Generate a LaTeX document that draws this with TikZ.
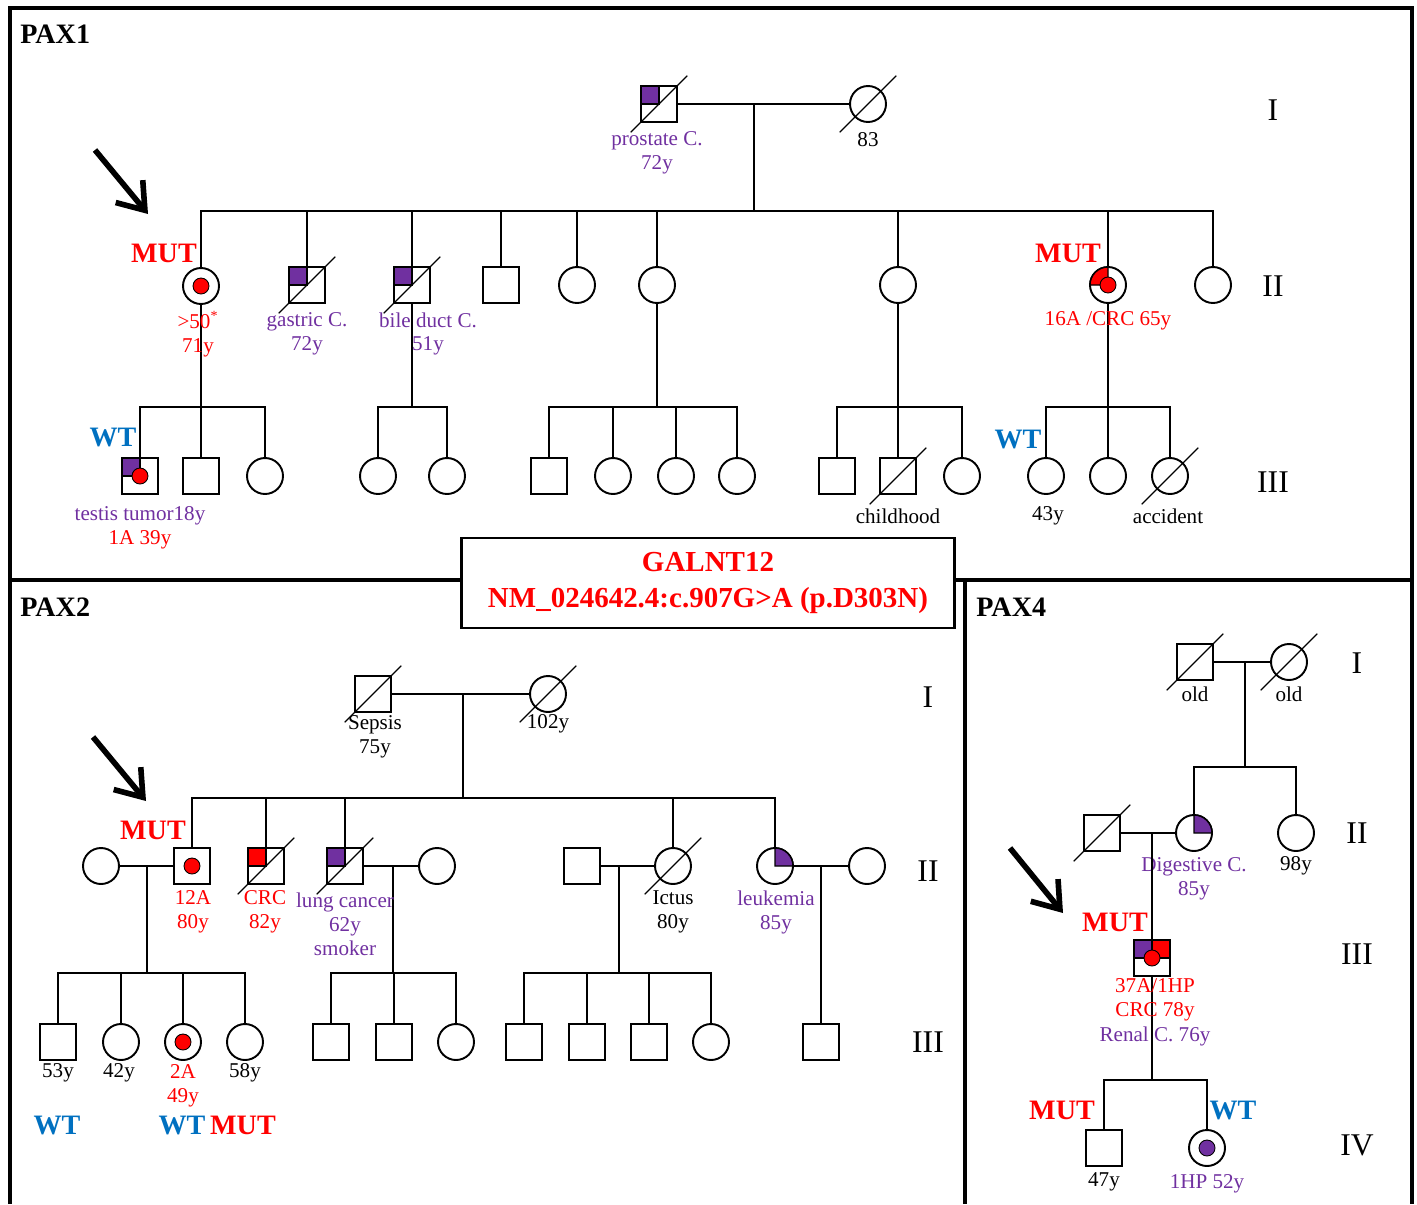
\documentclass[tikz,border=0pt]{standalone}
\usepackage{fontspec}
\setmainfont{Liberation Serif}
\usetikzlibrary{arrows.meta,calc}
\definecolor{purp}{RGB}{112,48,160}
\definecolor{wtblue}{RGB}{0,112,192}
\definecolor{mutred}{RGB}{255,0,0}
\tikzset{
  indiv/.style={draw=black, line width=1.1pt, fill=white, inner sep=0pt, outer sep=0pt, minimum size=0.72cm},
  male/.style={indiv, rectangle},
  female/.style={indiv, circle},
  link/.style={line width=1.1pt},
  frame/.style={line width=1.8pt},
  lbl/.style={font=\fontsize{12}{13.6}\selectfont, align=center, inner sep=0pt},
  plbl/.style={lbl, text=purp},
  rlbl/.style={lbl, text=mutred},
  mut/.style={font=\bfseries\fontsize{16}{18}\selectfont, text=mutred, inner sep=0pt},
  wt/.style={font=\bfseries\fontsize{16}{18}\selectfont, text=wtblue, inner sep=0pt},
  gen/.style={font=\fontsize{18}{20}\selectfont, inner sep=0pt},
  panel/.style={font=\bfseries\fontsize{16}{18}\selectfont, inner sep=0pt},
  proband/.style={line width=3.2pt, -{Straight Barb[length=14pt,width=20pt]}}
}
% markers drawn on top of a person node
\newcommand{\deceased}[1]{\draw[line width=0.7pt] ($(#1.center)+(225:0.8cm)$) -- ($(#1.center)+(45:0.8cm)$);}
\newcommand{\dotin}[2]{\filldraw[fill=#2, draw=black, line width=0.5pt] (#1.center) circle (0.16cm);}
\newcommand{\sqnw}[2]{\filldraw[fill=#2, draw=black, line width=0.8pt] (#1.north west) rectangle (#1.center);}
\newcommand{\sqne}[2]{\filldraw[fill=#2, draw=black, line width=0.8pt] (#1.north east) rectangle (#1.center);}
\newcommand{\cqne}[2]{\filldraw[fill=#2, draw=black, line width=0.8pt] (#1.center) -- (#1.north) arc[start angle=90, end angle=0, radius=0.36cm] -- cycle;}
\newcommand{\cqnw}[2]{\filldraw[fill=#2, draw=black, line width=0.8pt] (#1.center) -- (#1.north) arc[start angle=90, end angle=180, radius=0.36cm] -- cycle;}
\begin{document}
\begin{tikzpicture}[x=0.02cm, y=-0.02cm]
\useasboundingbox (0,0) rectangle (1417,1204);
% panel frames
\draw[frame] (10,1204) -- (10,8) -- (1412,8) -- (1412,1204);
\draw[frame] (10,580) -- (1412,580);
\draw[frame] (965,580) -- (965,1204);
\node[panel, anchor=west] (pax1) at (20,34) {PAX1};
\node[panel, anchor=west] (pax2) at (20,607) {PAX2};
\node[panel, anchor=west] (pax4) at (976,607) {PAX4};

%% ---------------- PAX1 ----------------
% generation I
\node[male] (p1f) at (659,104) {};
\node[female] (p1m) at (868,104) {};
\coordinate (p1mar) at (754,104);
\coordinate (p1sib) at (754,211);
\draw[link] (p1f) -- (p1m);
\draw[link] (p1mar) -- (p1sib);
\sqnw{p1f}{purp}
\deceased{p1f}
\deceased{p1m}
\node[plbl] (p1fl) at (657,153) {prostate C.\\72y};
\node[lbl] (p1ml) at (868,140) {83};
% generation II
\node[female] (p1c1) at (201,286) {};
\node[male] (p1c2) at (307,285) {};
\node[male] (p1c3) at (412,285) {};
\node[male] (p1c4) at (501,285) {};
\node[female] (p1c5) at (577,285) {};
\node[female] (p1c6) at (657,285) {};
\node[female] (p1c7) at (898,285) {};
\node[female] (p1c8) at (1108,285) {};
\node[female] (p1c9) at (1213,285) {};
\draw[link] (p1c1.north) |- (p1sib) -| (p1c9.north);
\foreach \n in {p1c2,p1c3,p1c4,p1c5,p1c6,p1c7,p1c8}
  \draw[link] (\n.north) -- (\n.north |- p1sib);
\dotin{p1c1}{mutred}
\sqnw{p1c2}{purp}
\deceased{p1c2}
\sqnw{p1c3}{purp}
\deceased{p1c3}
\cqnw{p1c8}{mutred}
\dotin{p1c8}{mutred}
% generation III
\node[male] (p1d1) at (140,476) {};
\node[male] (p1d2) at (201,476) {};
\node[female] (p1d3) at (265,476) {};
\coordinate (p1s1) at (201,407);
\draw[link] (p1c1) -- (p1d2);
\draw[link] (p1d1.north) |- (p1s1) -| (p1d3.north);
\sqnw{p1d1}{purp}
\dotin{p1d1}{mutred}
\node[female] (p1e1) at (378,476) {};
\node[female] (p1e2) at (447,476) {};
\coordinate (p1s2) at (412,407);
\draw[link] (p1c3) -- (p1s2);
\draw[link] (p1e1.north) |- (p1s2) -| (p1e2.north);
\node[male] (p1g1) at (549,476) {};
\node[female] (p1g2) at (613,476) {};
\node[female] (p1g3) at (676,476) {};
\node[female] (p1g4) at (737,476) {};
\coordinate (p1s3) at (657,407);
\draw[link] (p1c6) -- (p1s3);
\draw[link] (p1g1.north) |- (p1s3) -| (p1g4.north);
\draw[link] (p1g2.north) -- (p1g2.north |- p1s3);
\draw[link] (p1g3.north) -- (p1g3.north |- p1s3);
\node[male] (p1h1) at (837,476) {};
\node[male] (p1h2) at (898,476) {};
\node[female] (p1h3) at (962,476) {};
\coordinate (p1s4) at (898,407);
\draw[link] (p1c7) -- (p1h2);
\draw[link] (p1h1.north) |- (p1s4) -| (p1h3.north);
\deceased{p1h2}
\node[female] (p1k1) at (1046,476) {};
\node[female] (p1k2) at (1108,476) {};
\node[female] (p1k3) at (1170,476) {};
\coordinate (p1s5) at (1108,407);
\draw[link] (p1c8) -- (p1k2);
\draw[link] (p1k1.north) |- (p1s5) -| (p1k3.north);
\deceased{p1k3}
% labels
\node[mut] (p1mut1) at (164,253) {MUT};
\node[mut] (p1mut2) at (1068,253) {MUT};
\node[wt] (p1wt1) at (113,438) {WT};
\node[wt] (p1wt2) at (1018,440) {WT};
\node[rlbl] (p1c1l) at (198,334) {>50\textsuperscript{*}\\71y};
\node[plbl] (p1c2l) at (307,334) {gastric C.\\72y};
\node[plbl] (p1c3l) at (428,334) {bile duct C.\\51y};
\node[rlbl] (p1c8l) at (1108,321) {16A /CRC 65y};
\node[plbl] (p1d1l) at (140,516) {testis tumor18y};
\node[rlbl] (p1d1m) at (140,540) {1A 39y};
\node[lbl] (p1h2l) at (898,516) {childhood};
\node[lbl] (p1k1l) at (1048,516) {43y};
\node[lbl] (p1k3l) at (1168,516) {accident};
\node[gen] (p1g1n) at (1273,110) {I};
\node[gen] (p1g2n) at (1273,286) {II};
\node[gen] (p1g3n) at (1273,482) {III};
\coordinate (p1arrS) at (95,150);
\coordinate (p1arrE) at (148,214);
\draw[proband] (p1arrS) -- (p1arrE);

%% ---------------- variant box ----------------
\node[draw=black, line width=1.2pt, fill=white, minimum width=9.86cm, minimum height=1.8cm,
  align=center, text=mutred, font=\bfseries\fontsize{16.5}{20.4}\selectfont] (variant) at (708,583)
  {GALNT12\\NM\_024642.4:c.907G>A (p.D303N)};

%% ---------------- PAX2 ----------------
% generation I
\node[male] (p2f) at (373,694) {};
\node[female] (p2m) at (548,694) {};
\coordinate (p2mar) at (463,694);
\coordinate (p2sib) at (463,798);
\draw[link] (p2f) -- (p2m);
\draw[link] (p2mar) -- (p2sib);
\deceased{p2f}
\deceased{p2m}
\node[lbl] (p2fl) at (375,737) {Sepsis\\75y};
\node[lbl] (p2ml) at (548,724) {102y};
% generation II
\node[female] (p2w1) at (101,866) {};
\node[male] (p2c1) at (192,866) {};
\node[male] (p2c2) at (266,866) {};
\node[male] (p2c3) at (345,866) {};
\node[female] (p2w2) at (437,866) {};
\node[male] (p2h1) at (582,866) {};
\node[female] (p2c4) at (673,866) {};
\node[female] (p2c5) at (775,866) {};
\node[female] (p2w3) at (867,866) {};
\draw[link] (p2c1.north) |- (p2sib) -| (p2c5.north);
\foreach \n in {p2c2,p2c3,p2c4}
  \draw[link] (\n.north) -- (\n.north |- p2sib);
\draw[link] (p2w1) -- (p2c1);
\draw[link] (p2c3) -- (p2w2);
\draw[link] (p2h1) -- (p2c4);
\draw[link] (p2c5) -- (p2w3);
\dotin{p2c1}{mutred}
\sqnw{p2c2}{mutred}
\deceased{p2c2}
\sqnw{p2c3}{purp}
\deceased{p2c3}
\deceased{p2c4}
\cqne{p2c5}{purp}
% generation III
\coordinate (p2m1) at (147,866);
\coordinate (p2t1) at (147,973);
\coordinate (p2m2) at (393,866);
\coordinate (p2t2) at (393,973);
\coordinate (p2m3) at (619,866);
\coordinate (p2t3) at (619,973);
\coordinate (p2m4) at (821,866);
\draw[link] (p2m1) -- (p2t1);
\draw[link] (p2m2) -- (p2t2);
\draw[link] (p2m3) -- (p2t3);
\node[male] (p2a1) at (58,1042) {};
\node[female] (p2a2) at (121,1042) {};
\node[female] (p2a3) at (183,1042) {};
\node[female] (p2a4) at (245,1042) {};
\draw[link] (p2a1.north) |- (p2t1) -| (p2a4.north);
\draw[link] (p2a2.north) -- (p2a2.north |- p2t1);
\draw[link] (p2a3.north) -- (p2a3.north |- p2t1);
\dotin{p2a3}{mutred}
\node[male] (p2b1) at (331,1042) {};
\node[male] (p2b2) at (394,1042) {};
\node[female] (p2b3) at (456,1042) {};
\draw[link] (p2b1.north) |- (p2t2) -| (p2b3.north);
\draw[link] (p2b2.north) -- (p2b2.north |- p2t2);
\node[male] (p2d1) at (524,1042) {};
\node[male] (p2d2) at (587,1042) {};
\node[male] (p2d3) at (649,1042) {};
\node[female] (p2d4) at (711,1042) {};
\draw[link] (p2d1.north) |- (p2t3) -| (p2d4.north);
\draw[link] (p2d2.north) -- (p2d2.north |- p2t3);
\draw[link] (p2d3.north) -- (p2d3.north |- p2t3);
\node[male] (p2r1) at (821,1042) {};
\draw[link] (p2m4) -- (p2r1);
% labels
\node[mut] (p2mut1) at (153,830) {MUT};
\node[rlbl] (p2c1l) at (193,912) {12A\\80y};
\node[rlbl] (p2c2l) at (265,912) {CRC\\82y};
\node[plbl] (p2c3l) at (345,924) {lung cancer\\62y\\smoker};
\node[lbl] (p2c4l) at (673,912) {Ictus\\80y};
\node[plbl] (p2c5l) at (776,912) {leukemia\\85y};
\node[lbl] (p2a1l) at (58,1073) {53y};
\node[lbl] (p2a2l) at (119,1073) {42y};
\node[rlbl] (p2a3l) at (183,1086) {2A\\49y};
\node[lbl] (p2a4l) at (245,1073) {58y};
\node[wt] (p2wt1) at (57,1125) {WT};
\node[wt] (p2wt2) at (182,1125) {WT};
\node[mut] (p2mut2) at (243,1125) {MUT};
\node[gen] (p2g1n) at (928,697) {I};
\node[gen] (p2g2n) at (928,871) {II};
\node[gen] (p2g3n) at (928,1042) {III};
\coordinate (p2arrS) at (93,737);
\coordinate (p2arrE) at (146,801);
\draw[proband] (p2arrS) -- (p2arrE);

%% ---------------- PAX4 ----------------
% generation I
\node[male] (p4f) at (1195,662) {};
\node[female] (p4m) at (1289,662) {};
\coordinate (p4mar) at (1245,662);
\coordinate (p4sib) at (1245,767);
\draw[link] (p4f) -- (p4m);
\draw[link] (p4mar) -- (p4sib);
\deceased{p4f}
\deceased{p4m}
\node[lbl] (p4fl) at (1195,694) {old};
\node[lbl] (p4ml) at (1289,694) {old};
% generation II
\node[male] (p4h) at (1102,833) {};
\node[female] (p4c1) at (1194,833) {};
\node[female] (p4c2) at (1296,833) {};
\draw[link] (p4c1.north) |- (p4sib) -| (p4c2.north);
\draw[link] (p4h) -- (p4c1);
\deceased{p4h}
\cqne{p4c1}{purp}
\node[plbl] (p4c1l) at (1194,879) {Digestive C.\\85y};
\node[lbl] (p4c2l) at (1296,866) {98y};
% generation III
\coordinate (p4m1) at (1152,833);
\node[male] (p4p) at (1152,958) {};
\draw[link] (p4m1) -- (p4p);
\coordinate (p4s2) at (1152,1080);
\draw[link] (p4p) -- (p4s2);
\sqnw{p4p}{purp}
\sqne{p4p}{mutred}
\dotin{p4p}{mutred}
\node[mut] (p4mut1) at (1115,922) {MUT};
\node[rlbl] (p4pl) at (1155,1000) {37A/1HP\\CRC 78y};
\node[plbl] (p4pm) at (1155,1036) {Renal C. 76y};
% generation IV
\node[male] (p4g1) at (1104,1148) {};
\node[female] (p4g2) at (1207,1148) {};
\draw[link] (p4g1.north) |- (p4s2) -| (p4g2.north);
\dotin{p4g2}{purp}
\node[lbl] (p4g1l) at (1104,1182) {47y};
\node[plbl] (p4g2l) at (1207,1184) {1HP 52y};
\node[mut] (p4mut2) at (1062,1110) {MUT};
\node[wt] (p4wt) at (1233,1110) {WT};
\node[gen] (p4g1n) at (1357,663) {I};
\node[gen] (p4g2n) at (1357,833) {II};
\node[gen] (p4g3n) at (1357,954) {III};
\node[gen] (p4g4n) at (1357,1145) {IV};
\coordinate (p4arrS) at (1010,848);
\coordinate (p4arrE) at (1063,913);
\draw[proband] (p4arrS) -- (p4arrE);
\end{tikzpicture}
\end{document}
